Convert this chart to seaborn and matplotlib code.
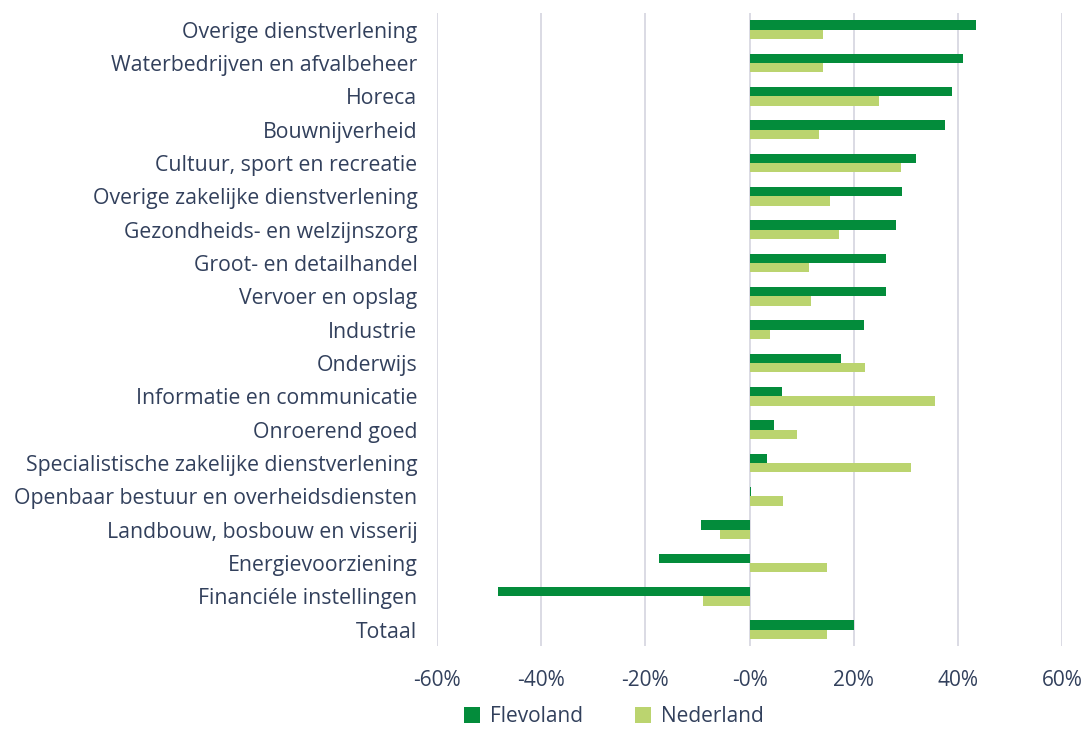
import seaborn as sns
import matplotlib.pyplot as plt
import pandas as pd

categories = [
    "Overige dienstverlening",
    "Waterbedrijven en afvalbeheer",
    "Horeca",
    "Bouwnijverheid",
    "Cultuur, sport en recreatie",
    "Overige zakelijke dienstverlening",
    "Gezondheids- en welzijnszorg",
    "Groot- en detailhandel",
    "Vervoer en opslag",
    "Industrie",
    "Onderwijs",
    "Informatie en communicatie",
    "Onroerend goed",
    "Specialistische zakelijke dienstverlening",
    "Openbaar bestuur en overheidsdiensten",
    "Landbouw, bosbouw en visserij",
    "Energievoorziening",
    "Financiéle instellingen",
    "Totaal",
]
flevoland = [43.4, 41.0, 38.9, 37.4, 31.9, 29.3, 28.1, 26.1, 26.1, 21.9,
             17.6, 6.3, 4.7, 3.4, 0.3, -9.4, -17.4, -48.3, 20.1]
nederland = [14.1, 14.1, 24.9, 13.3, 29.0, 15.5, 17.1, 11.4, 11.7, 4.0,
             22.2, 35.5, 9.1, 31.0, 6.5, -5.6, 14.9, -8.9, 14.9]
ticks = [-60, -40, -20, 0, 20, 40, 60]
tick_labels = ["-60%", "-40%", "-20%", "-0%", "20%", "40%", "60%"]

df = pd.concat([
    pd.DataFrame({"categorie": categories, "waarde": flevoland, "regio": "Flevoland"}),
    pd.DataFrame({"categorie": categories, "waarde": nederland, "regio": "Nederland"}),
])

sns.set_style("white")
plt.rcParams["font.family"] = ["Open Sans", "DejaVu Sans"]
text_color = "#32405c"

fig = plt.figure(figsize=(10.84, 7.31), dpi=100)
ax = fig.add_axes([0.403, 0.116, 0.577, 0.866])

sns.barplot(data=df, y="categorie", x="waarde", hue="regio", orient="h",
            order=categories, width=0.56, saturation=1, linewidth=0,
            palette={"Flevoland": "#038c3b", "Nederland": "#bbd46f"}, ax=ax)

ax.set_xlim(-60, 60)
ax.set_xticks(ticks)
ax.set_xticklabels(tick_labels)
ax.grid(axis="x", color="#d8d8e2", linewidth=1.3)
ax.set_axisbelow(True)
sns.despine(ax=ax, left=True, bottom=True)
ax.set_xlabel("")
ax.set_ylabel("")
ax.tick_params(axis="x", colors=text_color, labelsize=15, length=0, pad=17)
ax.tick_params(axis="y", colors=text_color, labelsize=15.3, length=0, pad=14)

ax.get_legend().remove()
handles, labels = ax.get_legend_handles_labels()
fig.legend(handles, labels, loc="center", bbox_to_anchor=(0.566, 0.02), ncol=2,
           frameon=False, fontsize=15, labelcolor=text_color, borderpad=0.2,
           handlelength=0.8, handleheight=0.8, handletextpad=0.45, columnspacing=2.5)

fig.savefig("out.png", dpi=100)
